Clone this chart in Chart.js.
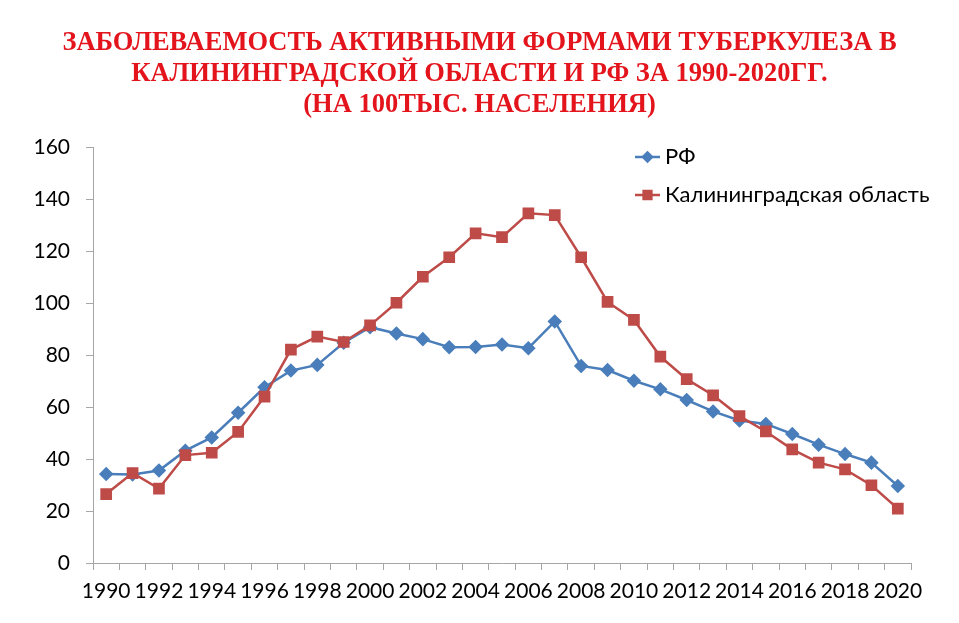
<!DOCTYPE html>
<html lang="ru">
<head>
    <meta charset="UTF-8">
    <title>Заболеваемость активными формами туберкулеза</title>
    <script src="https://cdn.jsdelivr.net/npm/chart.js"></script>
    <style>
        html, body {
            margin: 0;
            padding: 0;
            background: #ffffff;
        }

        #wrap {
            width: 959px;
            height: 623px;
        }
    </style>
</head>
<body>
    <div id="wrap">
        <canvas id="tbChart"></canvas>
    </div>

    <script>
        // Годы (категории оси X)
        const years = [
            '1990', '1991', '1992', '1993', '1994', '1995', '1996', '1997', '1998', '1999',
            '2000', '2001', '2002', '2003', '2004', '2005', '2006', '2007', '2008', '2009',
            '2010', '2011', '2012', '2013', '2014', '2015', '2016', '2017', '2018', '2019',
            '2020'
        ];

        // РФ, на 100 тыс. населения
        const rfValues = [
            34.2, 34.0, 35.6, 43.2, 48.3, 57.8, 67.6, 74.0, 76.2, 84.7,
            90.7, 88.3, 86.1, 83.0, 83.1, 84.0, 82.6, 92.9, 75.8, 74.2,
            70.1, 66.8, 62.7, 58.3, 54.8, 53.5, 49.6, 45.5, 41.9, 38.6,
            29.6
        ];

        // Калининградская область, на 100 тыс. населения
        const kaliningradValues = [
            26.5, 34.6, 28.6, 41.5, 42.4, 50.4, 64.0, 82.1, 87.1, 85.0,
            91.4, 100.1, 110.1, 117.6, 126.8, 125.3, 134.5, 133.8, 117.6, 100.4,
            93.5, 79.4, 70.7, 64.5, 56.5, 50.6, 43.7, 38.6, 36.0, 29.9,
            20.9
        ];

        const yTicks = [0, 20, 40, 60, 80, 100, 120, 140, 160];

        const titleLines = [
            'ЗАБОЛЕВАЕМОСТЬ АКТИВНЫМИ ФОРМАМИ ТУБЕРКУЛЕЗА В',
            'КАЛИНИНГРАДСКОЙ ОБЛАСТИ И РФ ЗА 1990-2020ГГ.',
            '(НА 100ТЫС. НАСЕЛЕНИЯ)'
        ];

        const axisColor = '#a6a6a6';
        const fontFamily = 'Lato, "Open Sans", sans-serif';
        const labelFont = { family: fontFamily, size: 21 };

        // Легенда внутри области графика (как в Excel)
        const innerLegend = {
            id: 'innerLegend',
            afterDatasetsDraw(chart) {
                const c = chart.ctx;
                const area = chart.chartArea;
                const x0 = area.right - 276;
                let y = area.top + 10;
                chart.data.datasets.forEach(ds => {
                    c.save();
                    c.strokeStyle = ds.borderColor;
                    c.lineWidth = ds.borderWidth;
                    c.beginPath();
                    c.moveTo(x0, y);
                    c.lineTo(x0 + 25, y);
                    c.stroke();
                    c.fillStyle = ds.pointBackgroundColor;
                    c.strokeStyle = ds.pointBorderColor;
                    Chart.helpers.drawPoint(c, {
                        pointStyle: ds.pointStyle,
                        radius: ds.pointRadius - 1,
                        borderWidth: 1
                    }, x0 + 12.5, y);
                    c.fillStyle = '#000000';
                    c.font = '22px ' + fontFamily;
                    c.textAlign = 'left';
                    c.textBaseline = 'middle';
                    c.fillText(ds.label, x0 + 30, y);
                    c.restore();
                    y += 38;
                });
            }
        };

        const ctx = document.getElementById('tbChart').getContext('2d');

        new Chart(ctx, {
            type: 'line',
            data: {
                labels: years,
                datasets: [
                    {
                        label: 'РФ',
                        data: rfValues,
                        borderColor: '#4a7ebb',
                        backgroundColor: '#4a7ebb',
                        pointBackgroundColor: '#4a7ebb',
                        pointBorderColor: '#4a7ebb',
                        borderWidth: 2.5,
                        pointStyle: 'rectRot',
                        pointRadius: 5.5,
                        pointHoverRadius: 5.5,
                        tension: 0,
                        order: 2
                    },
                    {
                        label: 'Калининградская область',
                        data: kaliningradValues,
                        borderColor: '#be4b48',
                        backgroundColor: '#be4b48',
                        pointBackgroundColor: '#be4b48',
                        pointBorderColor: '#be4b48',
                        borderWidth: 2.5,
                        pointStyle: 'rect',
                        pointRadius: 6.5,
                        pointHoverRadius: 6.5,
                        tension: 0,
                        order: 1
                    }
                ]
            },
            plugins: [innerLegend],
            options: {
                responsive: true,
                maintainAspectRatio: false,
                animation: false,
                layout: {
                    padding: 0
                },
                plugins: {
                    legend: { display: false },
                    tooltip: { enabled: false },
                    title: {
                        display: true,
                        text: titleLines,
                        color: '#e3141c',
                        font: {
                            family: '"Liberation Serif", "Times New Roman", serif',
                            size: 26.5,
                            weight: 'bold',
                            lineHeight: 31 / 26.5
                        },
                        padding: { top: 28, bottom: 26 }
                    }
                },
                scales: {
                    x: {
                        type: 'category',
                        offset: true,
                        afterFit(scale) { scale.height = 60; },
                        border: { display: true, color: axisColor, width: 1 },
                        grid: {
                            offset: true,
                            drawOnChartArea: false,
                            drawTicks: true,
                            tickLength: 7,
                            color: axisColor
                        },
                        ticks: {
                            autoSkip: false,
                            maxRotation: 0,
                            color: '#000000',
                            font: labelFont,
                            padding: 9,
                            callback: function(value, index) {
                                return index % 2 === 0 ? years[index] : '';
                            }
                        }
                    },
                    y: {
                        min: yTicks[0],
                        max: yTicks[yTicks.length - 1],
                        afterFit(scale) { scale.width = 93; },
                        afterBuildTicks(scale) {
                            scale.ticks = yTicks.map(v => ({ value: v }));
                        },
                        border: { display: true, color: axisColor, width: 1 },
                        grid: {
                            drawOnChartArea: false,
                            drawTicks: true,
                            tickLength: 7,
                            color: axisColor
                        },
                        ticks: {
                            color: '#000000',
                            font: labelFont,
                            padding: 16
                        }
                    },
                    // пустая правая ось: только резервирует поле справа
                    yRight: {
                        position: 'right',
                        min: yTicks[0],
                        max: yTicks[yTicks.length - 1],
                        afterFit(scale) { scale.width = 48; },
                        border: { display: false },
                        grid: { display: false },
                        ticks: { display: false }
                    }
                }
            }
        });
    </script>
</body>
</html>
